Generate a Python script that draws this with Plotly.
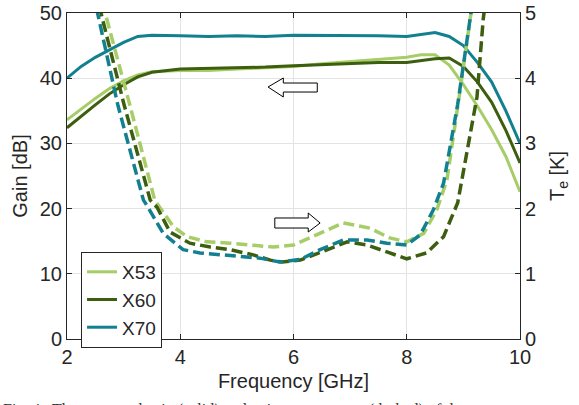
import plotly.graph_objects as go

# ---- Data ----
f_gain = [2.0, 2.25, 2.5, 2.75, 3.0, 3.25, 3.5, 4.0, 4.5, 5.0, 5.5, 6.0, 6.5, 7.0,
          7.5, 8.0, 8.25, 8.5, 8.75, 9.0, 9.25, 9.5, 9.75, 10.0]
gain_x53 = [33.6, 35.3, 36.9, 38.4, 39.6, 40.5, 41.0, 41.2, 41.2, 41.4, 41.6, 41.8, 42.2, 42.5,
            42.9, 43.2, 43.6, 43.6, 42.0, 39.0, 35.7, 32.1, 28.0, 22.6]
gain_x60 = [32.4, 34.2, 35.9, 37.6, 39.0, 40.2, 40.9, 41.4, 41.5, 41.5, 41.7, 41.9, 42.1, 42.2,
            42.4, 42.4, 42.7, 43.0, 43.1, 41.8, 39.4, 36.3, 32.0, 27.0]
gain_x70 = [40.0, 41.8, 43.2, 44.4, 45.5, 46.4, 46.6, 46.5, 46.4, 46.5, 46.4, 46.6, 46.6, 46.5,
            46.5, 46.4, 46.7, 47.0, 46.4, 45.0, 42.4, 39.4, 35.0, 30.0]

f_te_x53 = [2.55, 2.67, 3.1, 3.55, 3.64, 3.88, 4.12, 4.47, 4.88, 5.29, 5.64, 6.0, 6.35, 6.47,
            6.88, 7.35, 7.7, 8.0, 8.3, 8.53, 8.71, 8.94, 9.12, 9.2]
te_x53 = [5.4, 5.0, 3.62, 2.13, 2.02, 1.72, 1.57, 1.49, 1.47, 1.44, 1.41, 1.44, 1.57, 1.62,
          1.78, 1.7, 1.55, 1.49, 1.62, 1.98, 2.44, 3.8, 4.95, 5.4]

f_te_x60 = [2.5, 2.6, 3.0, 3.47, 3.59, 3.82, 4.17, 4.53, 4.88, 5.29, 5.59, 5.8, 6.12, 6.47,
            6.95, 7.3, 7.65, 8.0, 8.35, 8.65, 8.9, 8.98, 9.24, 9.35, 9.45]
te_x60 = [5.6, 5.0, 3.62, 2.13, 2.02, 1.64, 1.47, 1.41, 1.37, 1.29, 1.21, 1.18, 1.21, 1.33,
          1.49, 1.44, 1.34, 1.23, 1.32, 1.57, 2.09, 2.48, 3.71, 4.9, 5.6]

f_te_x70 = [2.4, 2.9, 3.35, 3.41, 3.7, 4.05, 4.35, 4.7, 5.06, 5.41, 5.76, 6.12, 6.47, 6.88,
            7.3, 7.65, 8.0, 8.24, 8.47, 8.65, 8.9, 9.12, 9.2]
te_x70 = [5.55, 3.58, 2.13, 2.05, 1.62, 1.37, 1.32, 1.29, 1.26, 1.24, 1.18, 1.22, 1.37, 1.52,
          1.52, 1.47, 1.44, 1.6, 1.98, 2.39, 3.6, 4.95, 5.4]

names = ["X53", "X60", "X70"]
colors = ["#a6cd68", "#3c5e0e", "#13808f"]

FONT = "Liberation Sans, Arial, sans-serif"
AX = "#262626"

fig = go.Figure()

gains = [gain_x53, gain_x60, gain_x70]
tes = [(f_te_x53, te_x53), (f_te_x60, te_x60), (f_te_x70, te_x70)]

for name, col, g in zip(names, colors, gains):
    fig.add_trace(go.Scatter(x=f_gain, y=g, mode="lines", name=name,
                             line=dict(color=col, width=3), yaxis="y"))
for name, col, (fx, t) in zip(names, colors, tes):
    fig.add_trace(go.Scatter(x=fx, y=t, mode="lines", name=name + " Te", showlegend=False,
                             line=dict(color=col, width=3.5, dash="11px,5px"), yaxis="y2"))

# hollow arrows
left_arrow = "M 5.55,38.65 L 5.82,40.03 L 5.82,39.26 L 6.42,39.26 L 6.42,37.88 L 5.82,37.88 L 5.82,37.12 Z"
right_arrow = "M 5.67,18.56 L 6.26,18.56 L 6.26,19.33 L 6.47,17.79 L 6.26,16.41 L 6.26,17.02 L 5.67,17.02 Z"
shapes = [
    dict(type="path", path=left_arrow, xref="x", yref="y", fillcolor="white",
         line=dict(color="black", width=1)),
    dict(type="path", path=right_arrow, xref="x", yref="y", fillcolor="white",
         line=dict(color="black", width=1)),
]

fig.update_layout(
    width=579, height=405,
    margin=dict(l=67, r=59, t=13, b=66, autoexpand=False),
    paper_bgcolor="white", plot_bgcolor="white",
    font=dict(family=FONT, size=20, color=AX),
    shapes=shapes,
    showlegend=True,
    legend=dict(x=0.031, y=0.267, xanchor="left", yanchor="top",
                bgcolor="white", bordercolor=AX, borderwidth=1,
                font=dict(family=FONT, size=19, color=AX),
                tracegroupgap=0, itemwidth=30),
    xaxis=dict(range=[2, 10], dtick=2, tick0=2, showgrid=True, gridcolor="#e3e3e3",
               showline=True, linecolor=AX, linewidth=1, mirror="ticks",
               ticks="inside", ticklen=5, tickcolor=AX, zeroline=False, automargin=False,
               title=dict(text="Frequency [GHz]", standoff=6, font=dict(size=20))),
    yaxis=dict(range=[0, 50], dtick=10, showgrid=True, gridcolor="#e3e3e3",
               showline=True, linecolor=AX, linewidth=1, ticks="inside", ticklen=5,
               tickcolor=AX, zeroline=False, automargin=False,
               title=dict(text="Gain [dB]", standoff=6, font=dict(size=20))),
    yaxis2=dict(range=[0, 5], dtick=1, overlaying="y", side="right", showgrid=False,
                showline=True, linecolor=AX, linewidth=1, ticks="inside", ticklen=5,
                tickcolor=AX, zeroline=False, automargin=False,
                title=dict(text="T<sub>e</sub> [K]", standoff=14, font=dict(size=20))),
    annotations=[dict(text="Fig. 4.  The measured gain (solid) and noise temperature (dashed) of the",
                      xref="paper", yref="paper", x=-0.145, y=-0.183, xanchor="left",
                      yanchor="top", showarrow=False,
                      font=dict(family="Liberation Serif, Times New Roman, serif", size=16,
                                color="#333333"))],
)

fig.write_html("out.html", post_script="document.body.style.margin='0px';",
               config={"displayModeBar": False})
